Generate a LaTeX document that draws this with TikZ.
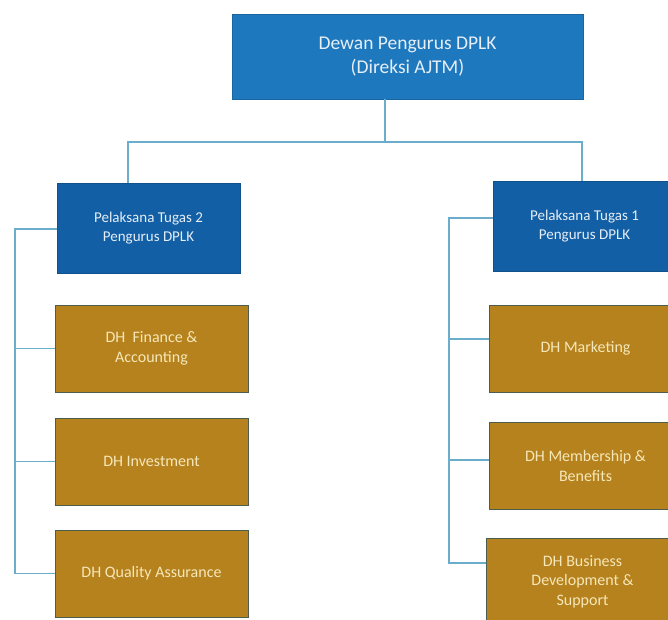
\documentclass[tikz,border=0pt]{standalone}
\usepackage{fontspec}
\setmainfont{Carlito}
\definecolor{topblue}{HTML}{1E78BE}
\definecolor{midblue}{HTML}{135FA5}
\definecolor{gold}{HTML}{B5821E}
\definecolor{goldline}{HTML}{4E5E4E}
\definecolor{conn}{HTML}{6AAECB}
\definecolor{bluetext}{HTML}{E6EEF6}
\definecolor{goldtext}{HTML}{F6E7B8}
\begin{document}
\begin{tikzpicture}[x=1pt,y=-1pt,
  topbox/.style={draw=topblue!85!black,line width=0.6pt,fill=topblue,text=bluetext,align=center,
    minimum width=351pt,minimum height=85pt,inner sep=0pt,font=\fontsize{19.5}{24}\selectfont},
  leadbox/.style={draw=midblue!85!black,line width=0.6pt,fill=midblue,text=bluetext,align=center,
    minimum width=183pt,minimum height=90pt,inner sep=0pt,font=\fontsize{15}{19}\selectfont},
  deptbox/.style={draw=goldline,line width=1pt,fill=gold,text=goldtext,align=center,
    minimum width=193pt,minimum height=87pt,inner sep=0pt,font=\fontsize{16}{19.5}\selectfont},
  link/.style={draw=conn,line width=1.2pt}]
\useasboundingbox[fill=white] (0,0) rectangle (668,619);
% nodes
\node[topbox] (top) at (407.5,56.5) {Dewan Pengurus DPLK\\(Direksi AJTM)};
\node[leadbox] (lb) at (148.5,228) {Pelaksana Tugas 2\\Pengurus DPLK};
\node[deptbox] (lg1) at (151.5,348.5) {DH\ \ Finance \&\\Accounting};
\node[deptbox] (lg2) at (151.5,461.5) {DH Investment};
\node[deptbox] (lg3) at (151.5,573.5) {DH Quality Assurance};
\node[leadbox] (rb) at (584.5,226) {Pelaksana Tugas 1\\Pengurus DPLK};
\node[deptbox] (rg1) at (585.5,348.5) {DH Marketing};
\node[deptbox] (rg2) at (585.5,466) {DH Membership \&\\Benefits};
\node[deptbox] (rg3) at (582.5,581.5) {DH Business\\Development \&\\Support};
% connector coordinates
\coordinate (hub) at (385,142);
\coordinate (hubL) at (128,142);
\coordinate (hubR) at (582,142);
\coordinate (ls) at (15,229);
\coordinate (rs1) at (449,218);
\coordinate (rs2) at (449,339);
\coordinate (rs3) at (449,460);
\coordinate (rs4) at (449,563);
% top connectors
\draw[link] (top.south -| hub) -- (hub);
\draw[link] (hubL |- lb.north) -- (hubL) -- (hubR) -- (hubR |- rb.north);
% left spine
\draw[link] (lb.west |- ls) -- (ls) -- (ls |- lg3.west) -- (lg3.west);
\draw[link] (ls |- lg1.west) -- (lg1.west);
\draw[link] (ls |- lg2.west) -- (lg2.west);
% right spine
\draw[link] (rs1 -| rb.west) -- (rs1) -- (rs4) -- (rs4 -| rg3.west);
\draw[link] (rs2) -- (rs2 -| rg1.west);
\draw[link] (rs3) -- (rs3 -| rg2.west);
\end{tikzpicture}
\end{document}
